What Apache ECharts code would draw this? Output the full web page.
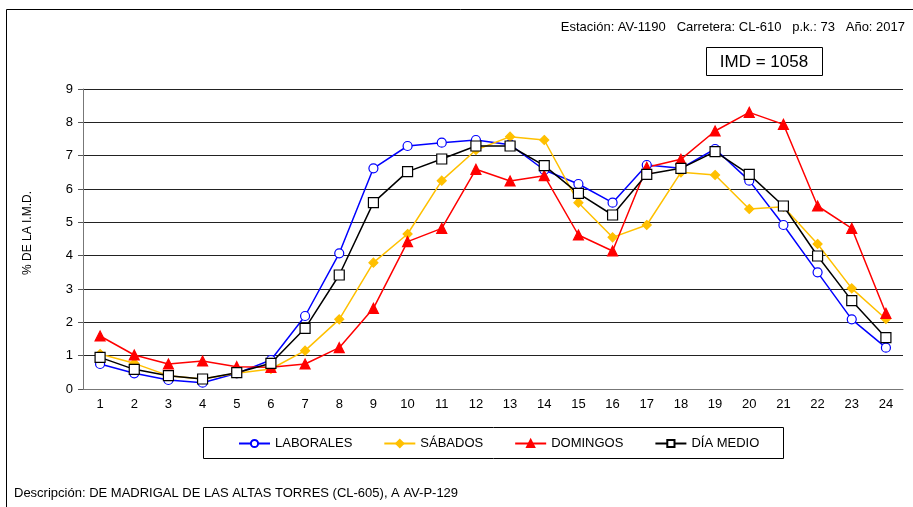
<!DOCTYPE html>
<html lang="es">
<head>
    <meta charset="UTF-8">
    <title>IMD AV-1190</title>
    <script src="https://cdn.jsdelivr.net/npm/echarts@6/dist/echarts.min.js"></script>
</head>
<body style="margin:0;background:#fff">
<div id="container" style="width:913px;height:507px"></div>
<script type="text/javascript">
    // horas del día
    let horas = ['1','2','3','4','5','6','7','8','9','10','11','12','13','14','15','16','17','18','19','20','21','22','23','24'];
    // % de la IMD por hora
    let laborales = [0.75,0.47,0.27,0.19,0.47,0.87,2.19,4.07,6.62,7.29,7.39,7.47,7.33,6.57,6.15,5.59,6.72,6.62,7.20,6.25,4.92,3.50,2.09,1.24];
    let sabados = [1.05,0.77,0.40,0.30,0.47,0.60,1.15,2.09,3.79,4.65,6.25,7.17,7.57,7.47,5.59,4.55,4.92,6.50,6.42,5.40,5.47,4.35,3.02,2.10];
    let domingos = [1.59,1.02,0.75,0.84,0.67,0.65,0.75,1.24,2.42,4.42,4.82,6.59,6.24,6.40,4.62,4.14,6.65,6.89,7.74,8.30,7.94,5.49,4.82,2.27];
    let diaMedio = [0.95,0.59,0.40,0.30,0.49,0.77,1.82,3.42,5.59,6.52,6.90,7.29,7.29,6.70,5.87,5.22,6.44,6.62,7.12,6.44,5.49,3.99,2.65,1.54];

    let cabecera = 'Estación: AV-1190   Carretera: CL-610   p.k.: 73   Año: 2017';
    let imd = 'IMD = 1058';
    let descripcion = 'Descripción: DE MADRIGAL DE LAS ALTAS TORRES (CL-605), A AV-P-129';
    let tituloY = '% DE LA I.M.D.';

    let myChart = echarts.init(document.getElementById('container'));
    let fuente = 'Liberation Sans, Arial, sans-serif';

    function serie(name, data, color, symbol, size, fill) {
        return {
            name: name,
            type: 'line',
            data: data,
            symbol: symbol,
            symbolSize: size,
            showAllSymbol: true,
            lineStyle: {color: color, width: 1.5},
            itemStyle: {color: fill, borderColor: color, borderWidth: 1.2},
            animation: false
        };
    }

    let option = {
        textStyle: {fontFamily: fuente},
        grid: {left: 83, right: 10, top: 89, bottom: 118},
        legend: {
            left: 233, top: 432,
            itemGap: 31, itemWidth: 31, itemHeight: 9,
            textStyle: {fontSize: 13, color: '#000', fontFamily: fuente},
            data: ['LABORALES', 'SÁBADOS', 'DOMINGOS', 'DÍA MEDIO']
        },
        xAxis: {
            type: 'category',
            data: horas,
            boundaryGap: true,
            axisLine: {lineStyle: {color: '#777'}},
            axisTick: {length: 5, lineStyle: {color: '#555'}},
            axisLabel: {fontSize: 13, color: '#000', margin: 9}
        },
        yAxis: {
            type: 'value',
            min: 0, max: 9, interval: 1,
            axisLine: {show: true, lineStyle: {color: '#777'}},
            axisTick: {show: true, length: 5, lineStyle: {color: '#555'}},
            axisLabel: {fontSize: 13, color: '#000', margin: 10},
            splitLine: {lineStyle: {color: '#222', width: 1}}
        },
        graphic: [
            {type: 'rect', shape: {x: 6.5, y: 9.5, width: 1000, height: 1000}, style: {fill: 'none', stroke: '#000', lineWidth: 1}},
            {type: 'text', right: 8, top: 21, style: {text: cabecera, font: '13px ' + fuente, fill: '#000'}},
            {type: 'rect', shape: {x: 706.5, y: 47.5, width: 116, height: 28}, style: {fill: '#fff', stroke: '#000', lineWidth: 1}},
            {type: 'text', x: 764, y: 62, style: {text: imd, font: '17px ' + fuente, fill: '#000', align: 'center', verticalAlign: 'middle'}},
            {type: 'rect', shape: {x: 203.5, y: 427.5, width: 580, height: 31}, style: {fill: 'none', stroke: '#000', lineWidth: 1}},
            {type: 'text', x: 28, y: 233, rotation: Math.PI / 2, style: {text: tituloY, font: '12px ' + fuente, fill: '#000', align: 'center', verticalAlign: 'middle'}},
            {type: 'text', left: 14, top: 487, style: {text: descripcion, font: '13px ' + fuente, fill: '#000'}}
        ],
        series: [
            serie('LABORALES', laborales, '#0000ff', 'circle', 9, '#fff'),
            serie('SÁBADOS', sabados, '#ffc000', 'diamond', 9, '#ffc000'),
            serie('DOMINGOS', domingos, '#ff0000', 'triangle', 10, '#ff0000'),
            serie('DÍA MEDIO', diaMedio, '#000000', 'rect', 10, '#fff')
        ]
    };
    myChart.setOption(option);
</script>
</body>
</html>
